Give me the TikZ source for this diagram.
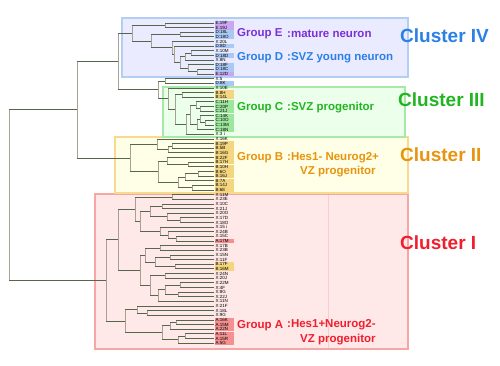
\documentclass[tikz,border=0pt]{standalone}
\usepackage{fontspec}
\setmainfont{Liberation Sans}
\usetikzlibrary{calc}
\definecolor{lE}{HTML}{C9A8F2}
\definecolor{lD}{HTML}{A9C9F4}
\definecolor{lC}{HTML}{9EE69E}
\definecolor{lB}{HTML}{F5D680}
\definecolor{lA}{HTML}{F59090}
\definecolor{cE}{HTML}{7B2FD8}
\definecolor{cD}{HTML}{2A80E6}
\definecolor{cC}{HTML}{22B522}
\definecolor{cB}{HTML}{E8940E}
\definecolor{cA}{HTML}{F01E2E}
\definecolor{hlc}{HTML}{56664C}
\definecolor{vlc}{HTML}{A8A090}
\newcommand\dnode[4]{%
  \path let \p1=(#3), \p2=(#4) in coordinate (#1) at (#2pt, {0.5*\y1+0.5*\y2});
  \draw[vl] (#1 |- #3) -- (#1 |- #4);
  \draw[hl] (#1 |- #3) -- (#3);
  \draw[hl] (#1 |- #4) -- (#4);
}
\begin{document}
\begin{tikzpicture}[x=1pt,y=-1pt,
  hl/.style={draw=hlc,line width=0.9pt},
  vl/.style={draw=vlc,line width=0.9pt},
  leaf/.style={anchor=west,inner sep=0pt,minimum height=4.5pt,minimum width=19pt,text width=18pt,align=left,font=\fontsize{4.5}{4.6}\selectfont},
  grp/.style={anchor=west,inner sep=0pt,font=\bfseries\fontsize{11.5}{12}\selectfont},
  dsc/.style={anchor=west,inner sep=0pt,font=\bfseries\fontsize{11.5}{12}\selectfont,align=left},
  clu/.style={anchor=west,inner sep=0pt,font=\bfseries\fontsize{19}{20}\selectfont}]
\useasboundingbox (0,0) rectangle (500,365);
\fill[white] (0,0) rectangle (500,365);
% boxes
\draw[fill=red!9,draw=lA!80,line width=1.5pt] (95,194) rectangle (408,349);
\draw[draw=lA!45,line width=0.6pt] (328,195) -- (328,348);
\draw[fill=yellow!10,draw=lB!90,line width=1.5pt] (115,137) rectangle (408,193);
\draw[fill=green!8,draw=lC!90,line width=1.5pt] (163,87) rectangle (405,137);
\draw[fill=blue!8,draw=lD!90,line width=1.5pt] (122,18) rectangle (408,77);
% leaves
\foreach \i/\t/\c in {1/E:19F/lE,2/E:19J/lE,3/D:18L/lD,4/D:18O/lD,5/X:20L/none,6/D:8D/lD,7/X:10M/none,8/D:18D/lD,9/X:8N/none,10/D:18F/lD,11/D:18C/lD,12/E:12D/lE,
  13/X:5/none,14/D:8K/lD,15/X:10E/none,16/B:8H/lB,17/B:14L/lB,18/C:11H/lC,19/C:20P/lC,20/C:21J/lC,21/C:14K/lC,22/C:10O/lC,23/C:13M/lC,24/C:18N/lC,25/X:3 i/none,
  26/X:16K/none,27/B:19P/lB,28/B:5B/lB,29/B:16G/lB,30/B:22F/lB,31/B:17H/lB,32/B:10H/lB,33/B:6O/lB,34/B:16J/lB,35/B:7A/lB,36/B:14J/lB,37/B:6E/lB,
  38/X:11M/none,39/X:23E/none,40/X:10C/none,41/X:21J/none,42/X:20O/none,43/X:17D/none,44/X:18O/none,45/X:15 i/none,46/X:24B/none,47/X:15C/none,48/A:17M/lA,
  49/X:17B/none,50/X:23B/none,51/X:15N/none,52/X:11F/none,53/B:17F/lB,54/B:16M/lB,55/X:24N/none,56/X:20J/none,57/X:22M/none,58/X:4F/none,59/X:8G/none,60/X:22J/none,61/X:11N/none,
  62/X:21F/none,63/X:18L/none,64/X:9G/none,65/A:16K/lA,66/A:15M/lA,67/A:22N/lA,68/A:11L/lA,69/A:15R/lA,70/A:5G/lA}{
  \coordinate (L\i) at (214,{23+(\i-1)*4.64});
  \node[leaf,fill=\c] (T\i) at (215,{23+(\i-1)*4.64}) {\t};
}
% Cluster IV
\dnode{a1}{165}{L1}{L2}
\dnode{a2}{180}{L3}{L4}
\dnode{a3}{191}{L7}{L8}
\dnode{a4}{185}{a3}{L9}
\dnode{a5}{197}{L11}{L12}
\dnode{a6}{188}{L10}{a5}
\dnode{a7}{180}{a4}{a6}
\dnode{a8}{174}{L6}{a7}
\dnode{a9}{172}{L5}{a8}
\dnode{a10}{151}{a2}{a9}
\dnode{a11}{132}{a1}{a10}
% Cluster III
\dnode{b1}{165}{L13}{L14}
\dnode{b2}{182}{L16}{L17}
\dnode{c1}{200}{L19}{L20}
\dnode{c2}{196}{L18}{c1}
\dnode{c3}{205}{L22}{L23}
\dnode{c4}{200}{L21}{c3}
\dnode{c5}{197}{c4}{L24}
\dnode{c6}{190}{c2}{c5}
\dnode{c7}{186}{c6}{L25}
\dnode{c8}{175}{b2}{c7}
\dnode{c9}{168}{L15}{c8}
\dnode{n3}{158}{b1}{c9}
\dnode{n43}{118}{a11}{n3}
% Cluster II
\dnode{d1}{172}{L27}{L28}
\dnode{d2}{168}{d1}{L29}
\dnode{d3}{157}{L26}{d2}
\dnode{e1}{188}{L31}{L32}
\dnode{e2}{167}{L30}{e1}
\dnode{e3}{198}{L33}{L34}
\dnode{e4}{185}{e3}{L35}
\dnode{e5}{192}{L36}{L37}
\dnode{e6}{178}{e4}{e5}
\dnode{e7}{158}{e2}{e6}
\dnode{n2}{130}{d3}{e7}
\dnode{ntop}{77}{n43}{n2}
% Cluster I
\dnode{f1}{172}{L38}{L39}
\dnode{f2}{162}{L40}{L41}
\dnode{f3}{180}{L43}{L44}
\dnode{f4}{167}{L42}{f3}
\dnode{f5}{150}{f2}{f4}
\dnode{f6}{176}{L47}{L48}
\dnode{f7}{168}{L46}{f6}
\dnode{f8}{160}{L45}{f7}
\dnode{f9}{140}{f5}{f8}
\dnode{sa}{135}{f1}{f9}
\dnode{g1}{160}{L49}{L50}
\dnode{g2}{170}{L51}{L52}
\dnode{g3}{175}{L53}{L54}
\dnode{g4}{155}{g2}{g3}
\dnode{g5}{145}{g1}{g4}
\dnode{g6}{165}{L55}{L56}
\dnode{g7}{180}{L57}{L58}
\dnode{g8}{178}{L59}{L60}
\dnode{g9}{165}{g7}{g8}
\dnode{g10}{158}{g9}{L61}
\dnode{g11}{150}{g6}{g10}
\dnode{sb}{140}{g5}{g11}
\dnode{h1}{147}{L63}{L64}
\dnode{h2}{137}{L62}{h1}
\dnode{h3}{176}{L65}{L66}
\dnode{h4}{170}{h3}{L67}
\dnode{h5}{185}{L68}{L69}
\dnode{h6}{178}{h5}{L70}
\dnode{h7}{162}{h4}{h6}
\dnode{sc}{125}{h2}{h7}
\dnode{nab}{118}{sa}{sb}
\dnode{n1}{106}{nab}{sc}
\dnode{root}{9}{ntop}{n1}
% group labels
\node[grp,text=cE] (gE) at (237,34) {Group E};
\node[dsc,text=cE] (dE) at (287,34) {:mature neuron};
\node[grp,text=cD] (gD) at (237,58) {Group D};
\node[dsc,text=cD] (dD) at (287,58) {:SVZ young neuron};
\node[grp,text=cC] (gC) at (237,108) {Group C};
\node[dsc,text=cC] (dC) at (287,108) {:SVZ progenitor};
\node[grp,text=cB] (gB) at (237,158) {Group B};
\node[dsc,text=cB] (dB) at (287,158) {:Hes1- Neurog2+};
\node[dsc,text=cB] (dB2) at (300,172) {VZ progenitor};
\node[grp,text=cA] (gA) at (237,326) {Group A};
\node[dsc,text=cA] (dA) at (287,325) {:Hes1+Neurog2-};
\node[dsc,text=cA] (dA2) at (300,340) {VZ progenitor};
% cluster labels
\node[clu,text=cD] (k4) at (400,36) {Cluster IV};
\node[clu,text=cC] (k3) at (398,100) {Cluster III};
\node[clu,text=cB] (k2) at (400,155) {Cluster II};
\node[clu,text=cA] (k1) at (400,243) {Cluster I};
\end{tikzpicture}
\end{document}
